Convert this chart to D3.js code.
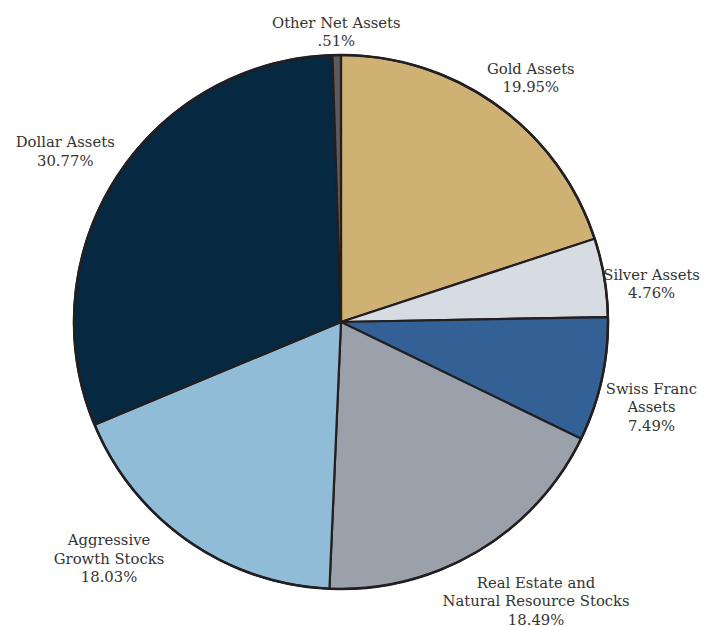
<!DOCTYPE html>
<html>
<head>
<meta charset="utf-8">
<script src="https://cdn.jsdelivr.net/npm/d3@7"></script>
<style>
  body { margin: 0; background: #fff; }
  svg text { font-family: "DejaVu Serif", "Liberation Serif", serif; font-size: 14.8px; fill: #333; }
</style>
</head>
<body>
<svg width="715" height="627"></svg>
<script>
// slice names, split into label lines
const labels = [
    ["Gold Assets"],
    ["Silver Assets"],
    ["Swiss Franc", "Assets"],
    ["Real Estate and", "Natural Resource Stocks"],
    ["Aggressive", "Growth Stocks"],
    ["Dollar Assets"],
    ["Other Net Assets"]
];
const values = [19.95, 4.76, 7.49, 18.49, 18.03, 30.77, 0.51];
const valueText = ["19.95%", "4.76%", "7.49%", "18.49%", "18.03%", "30.77%", ".51%"];
const colors = ["#cfb173", "#d7dce2", "#336195", "#9aa1aa", "#90bcd8", "#062840", "#5b5b5b"];

const svg = d3.select("svg");
const cx = 341, cy = 322, radius = 267;
// label distance from centre, plus a hand nudge so labels sit where the original has them
const labelR = [310, 313, 321, 340, 323, 328, 292];
const nudge = [[8, 7], [2, 14], [-3, 16], [21, -13], [-47, -28], [0, 7], [0, 2]];

const g = svg.append("g").attr("transform", `translate(${cx},${cy})`);

const pie = d3.pie().sort(null).value(d => d);
const arcs = pie(values);
const arc = d3.arc().innerRadius(0).outerRadius(radius);

g.selectAll("path.slice")
    .data(arcs)
    .enter()
    .append("path")
    .attr("class", "slice")
    .attr("d", arc)
    .attr("fill", (d, i) => colors[i])
    .attr("stroke", "#231f20")
    .attr("stroke-width", 2.2)
    .attr("stroke-linejoin", "round");

// outer ring drawn on top so the rim looks even
g.append("circle")
    .attr("r", radius)
    .attr("fill", "none")
    .attr("stroke", "#231f20")
    .attr("stroke-width", 2.5);

const lineH = 18.5;
arcs.forEach((d, i) => {
    const lines = labels[i].concat([valueText[i]]);
    const mid = (d.startAngle + d.endAngle) / 2;
    const lx = Math.sin(mid) * labelR[i] + nudge[i][0];
    const ly = -Math.cos(mid) * labelR[i] + nudge[i][1];
    const text = g.append("text")
        .attr("text-anchor", "middle")
        .attr("x", lx)
        .attr("y", ly - (lines.length - 1) * lineH / 2 + 5);
    lines.forEach((t, j) => {
        text.append("tspan")
            .attr("x", lx)
            .attr("dy", j === 0 ? 0 : lineH)
            .text(t);
    });
});
</script>
</body>
</html>
